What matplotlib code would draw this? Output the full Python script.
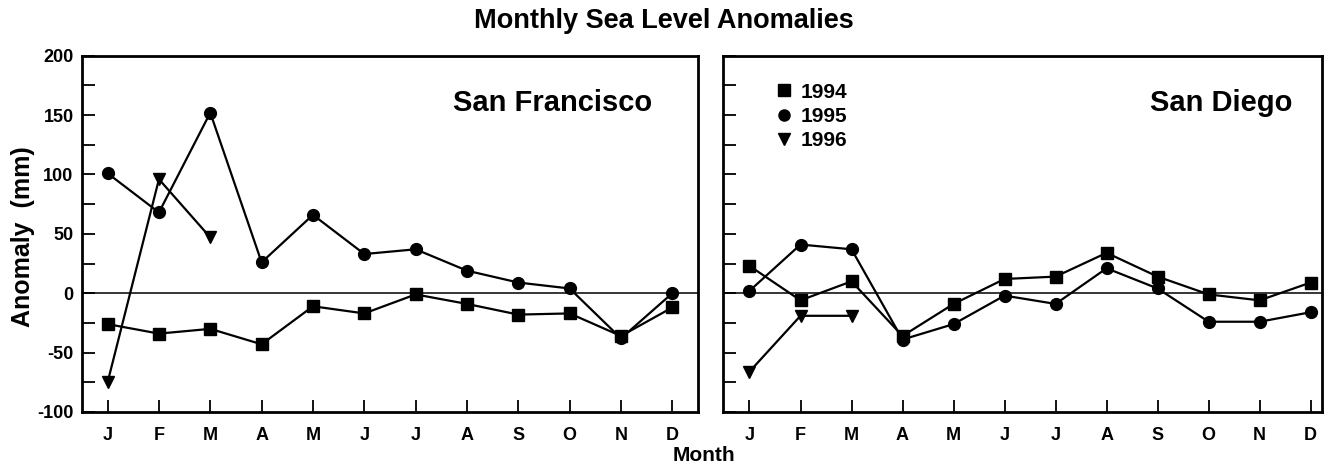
import matplotlib.pyplot as plt
from matplotlib.lines import Line2D
from matplotlib.ticker import MultipleLocator

months = ["J", "F", "M", "A", "M", "J", "J", "A", "S", "O", "N", "D"]
month_num = list(range(1, 13))

# San Francisco
sf_1994 = [-26, -34, -30, -43, -11, -17, -1, -9, -18, -17, -36, -12]
sf_1995 = [101, 68, 152, 26, 66, 33, 37, 19, 9, 4, -38, 0]
sf_1996 = [-75, 96, 47]

# San Diego
sd_1994 = [23, -6, 10, -36, -9, 12, 14, 34, 14, -1, -6, 9]
sd_1995 = [2, 41, 37, -39, -26, -2, -9, 21, 4, -24, -24, -16]
sd_1996 = [-66, -19, -19]

plt.rcParams['font.family'] = ['Liberation Sans', 'DejaVu Sans']
plt.rcParams['font.weight'] = 'bold'
plt.rcParams['axes.unicode_minus'] = False

fig = plt.figure(figsize=(13.28, 4.67), dpi=100)
ax1 = fig.add_axes([0.0617, 0.1178, 0.4639, 0.7629])
ax2 = fig.add_axes([0.5444, 0.1178, 0.4510, 0.7629])

line_kw = dict(color="black", lw=1.6, markersize=8.5)


def draw_panel(ax, y94, y95, y96, name, name_x):
    ax.axhline(0, color="black", lw=1.1, zorder=1)
    ax.plot(month_num, y94, marker="s", **line_kw)
    ax.plot(month_num, y95, marker="o", **line_kw)
    ax.plot(month_num[:3], y96, marker="v", **line_kw)
    ax.set_ylim(-100, 200)
    ax.set_xticks(month_num)
    ax.set_xticklabels(months)
    ax.yaxis.set_major_locator(MultipleLocator(50))
    ax.yaxis.set_minor_locator(MultipleLocator(25))
    ax.tick_params(axis="both", which="both", direction="in", width=1.3)
    ax.tick_params(axis="x", length=9, pad=11, labelsize=13)
    ax.tick_params(axis="y", which="major", length=9, pad=6, labelsize=13)
    ax.tick_params(axis="y", which="minor", length=9)
    for sp in ax.spines.values():
        sp.set_linewidth(2)
    ax.text(name_x, 0.867, name, transform=ax.transAxes, ha="right",
            va="center", fontsize=21, fontweight="bold")


draw_panel(ax1, sf_1994, sf_1995, sf_1996, "San Francisco", 0.925)
draw_panel(ax2, sd_1994, sd_1995, sd_1996, "San Diego", 0.951)

ax1.set_xlim(0.5, 12.5)
ax2.set_xlim(0.48, 12.22)
ax2.tick_params(axis="y", labelleft=False)

fig.text(0.0173, 0.494, "Anomaly  (mm)", rotation=90, ha="center", va="center",
         fontsize=18, fontweight="bold")

handles = [
    Line2D([], [], color="black", marker="s", ls="none", markersize=8),
    Line2D([], [], color="black", marker="o", ls="none", markersize=8),
    Line2D([], [], color="black", marker="v", ls="none", markersize=8),
]
ax2.legend(handles, ["1994", "1995", "1996"], loc="upper left",
           bbox_to_anchor=(0.06, 0.977), frameon=False, handlelength=0.6,
           handletextpad=0.5, labelspacing=0.25, prop={"size": 15, "weight": "bold"})

fig.text(0.5, 0.955, "Monthly Sea Level Anomalies", ha="center", va="center",
         fontsize=19.5, fontweight="bold")
fig.text(0.53, 0.004, "Month", ha="center", va="bottom",
         fontsize=15, fontweight="bold")

fig.savefig("out.png", dpi=100)
